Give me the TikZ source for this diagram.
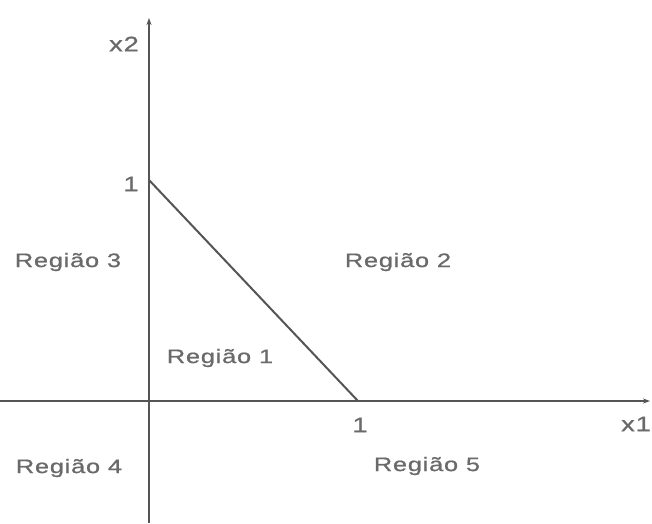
\documentclass[tikz,border=0pt]{standalone}
\usepackage{fontspec}
\setmainfont{Liberation Sans}
\newfontfamily\widefont[FakeStretch=1.3,LetterSpace=4,FakeBold=0.8]{Liberation Sans}
\usetikzlibrary{arrows.meta}
\definecolor{inkgray}{HTML}{555555}
\definecolor{txtgray}{HTML}{6A6A6A}
\tikzset{
  axisline/.style={draw=inkgray, line width=2pt},
  regionlabel/.style={text=txtgray, font=\widefont\fontsize{19.5}{21}\selectfont, inner sep=0pt},
  ticklabel/.style={text=txtgray, font=\widefont\fontsize{21}{23}\selectfont, inner sep=0pt},
  tipstyle/.style={-{Stealth[length=7pt,width=5pt]}}
}
\begin{document}
\begin{tikzpicture}[x=1pt,y=-1pt]
\useasboundingbox (0,0) rectangle (652,523);
\fill[white] (0,0) rectangle (652,523);
% axes
\coordinate (ybot) at (149,523);
\coordinate (ytop) at (149,18);
\coordinate (xleft) at (0,401);
\coordinate (xright) at (650,401);
\draw[axisline, tipstyle] (ybot) -- (ytop);
\draw[axisline, tipstyle] (xleft) -- (xright);
% constraint line
\coordinate (p1) at (149,180);
\coordinate (p2) at (358,401);
\draw[axisline] (p1) -- (p2);
% labels
\node[ticklabel] (lx2) at (124,44) {x2};
\node[ticklabel] (lx1) at (636,424) {x1};
\node[ticklabel] (ly1) at (131,184) {1};
\node[ticklabel] (lxo) at (360,425) {1};
\node[regionlabel] (r1) at (220,358) {Região 1};
\node[regionlabel] (r2) at (398,262) {Região 2};
\node[regionlabel] (r3) at (68,262) {Região 3};
\node[regionlabel] (r4) at (69,468) {Região 4};
\node[regionlabel] (r5) at (427,466) {Região 5};
\end{tikzpicture}
\end{document}
